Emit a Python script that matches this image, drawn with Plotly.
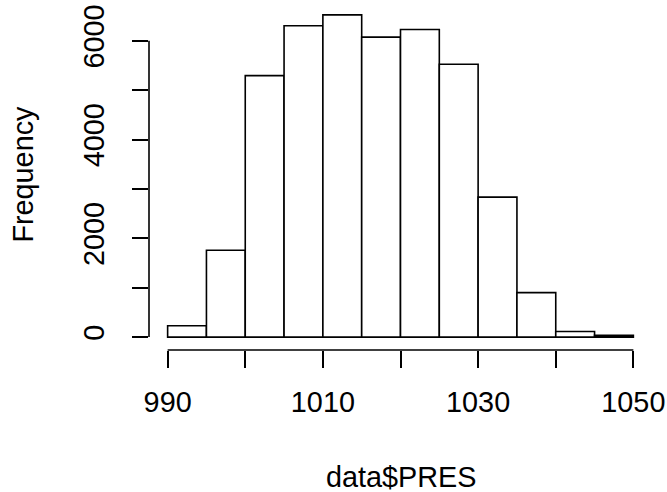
import plotly.graph_objects as go

# Histogram of data$PRES (bins of width 5 hPa)
bin_starts = [990, 995, 1000, 1005, 1010, 1015, 1020, 1025, 1030, 1035, 1040, 1045]
bin_width = 5
counts = [230, 1760, 5295, 6305, 6525, 6075, 6230, 5525, 2835, 900, 115, 35]

x_ticks = [990, 1000, 1010, 1020, 1030, 1040, 1050]
x_ticktext = ["990", "", "1010", "", "1030", "", "1050"]
y_ticks = [0, 1000, 2000, 3000, 4000, 5000, 6000]
y_ticktext = ["0", "", "2000", "", "4000", "", "6000"]

FONT = "Liberation Sans, Arial, sans-serif"
FS = 28.8
LW = 1.6

centers = [s + bin_width / 2 for s in bin_starts]

fig = go.Figure()
fig.add_trace(go.Bar(
    x=centers, y=counts, width=[bin_width] * len(counts),
    marker=dict(color="white", line=dict(color="black", width=LW)),
    showlegend=False, hoverinfo="x+y",
))

xmin, xmax = bin_starts[0], bin_starts[-1] + bin_width
xpad = (xmax - xmin) * 0.04
ymax = max(counts)
ypad = ymax * 0.04

fig.update_layout(
    width=667, height=492,
    margin=dict(l=148.7, r=15.1, t=2.1, b=142.4),
    paper_bgcolor="white", plot_bgcolor="white",
    font=dict(family=FONT, size=FS, color="black"),
    xaxis=dict(
        range=[xmin - xpad, xmax + xpad], showgrid=False, zeroline=False, showline=False,
        tickmode="array", tickvals=x_ticks, ticktext=x_ticktext,
        ticks="outside", ticklen=17, tickwidth=LW, tickcolor="black",
        tickfont=dict(family=FONT, size=FS, color="black"),
        ticklabelstandoff=9,
    ),
    yaxis=dict(
        range=[-ypad, ymax + ypad], showgrid=False, zeroline=False, showline=False,
        tickmode="array", tickvals=y_ticks, ticktext=y_ticktext,
        ticks="outside", ticklen=16, tickwidth=LW, tickcolor="black",
        tickangle=-90,
        tickfont=dict(family=FONT, size=FS, color="black"),
        ticklabelstandoff=16,
    ),
    shapes=[
        dict(type="line", xref="x", yref="paper", x0=x_ticks[0], x1=x_ticks[-1], y0=0, y1=0,
             line=dict(color="black", width=LW)),
        dict(type="line", xref="paper", yref="y", x0=0, x1=0, y0=y_ticks[0], y1=y_ticks[-1],
             line=dict(color="black", width=LW)),
    ],
    annotations=[
        dict(text="data$PRES", xref="paper", yref="paper", x=0.5, y=-0.364,
             xanchor="center", yanchor="middle", showarrow=False,
             font=dict(family=FONT, size=FS, color="black")),
        dict(text="Frequency", xref="paper", yref="paper", x=-0.2498, y=0.505,
             xanchor="center", yanchor="middle", showarrow=False, textangle=-90,
             font=dict(family=FONT, size=FS, color="black")),
    ],
)

fig.write_html("out.html")
